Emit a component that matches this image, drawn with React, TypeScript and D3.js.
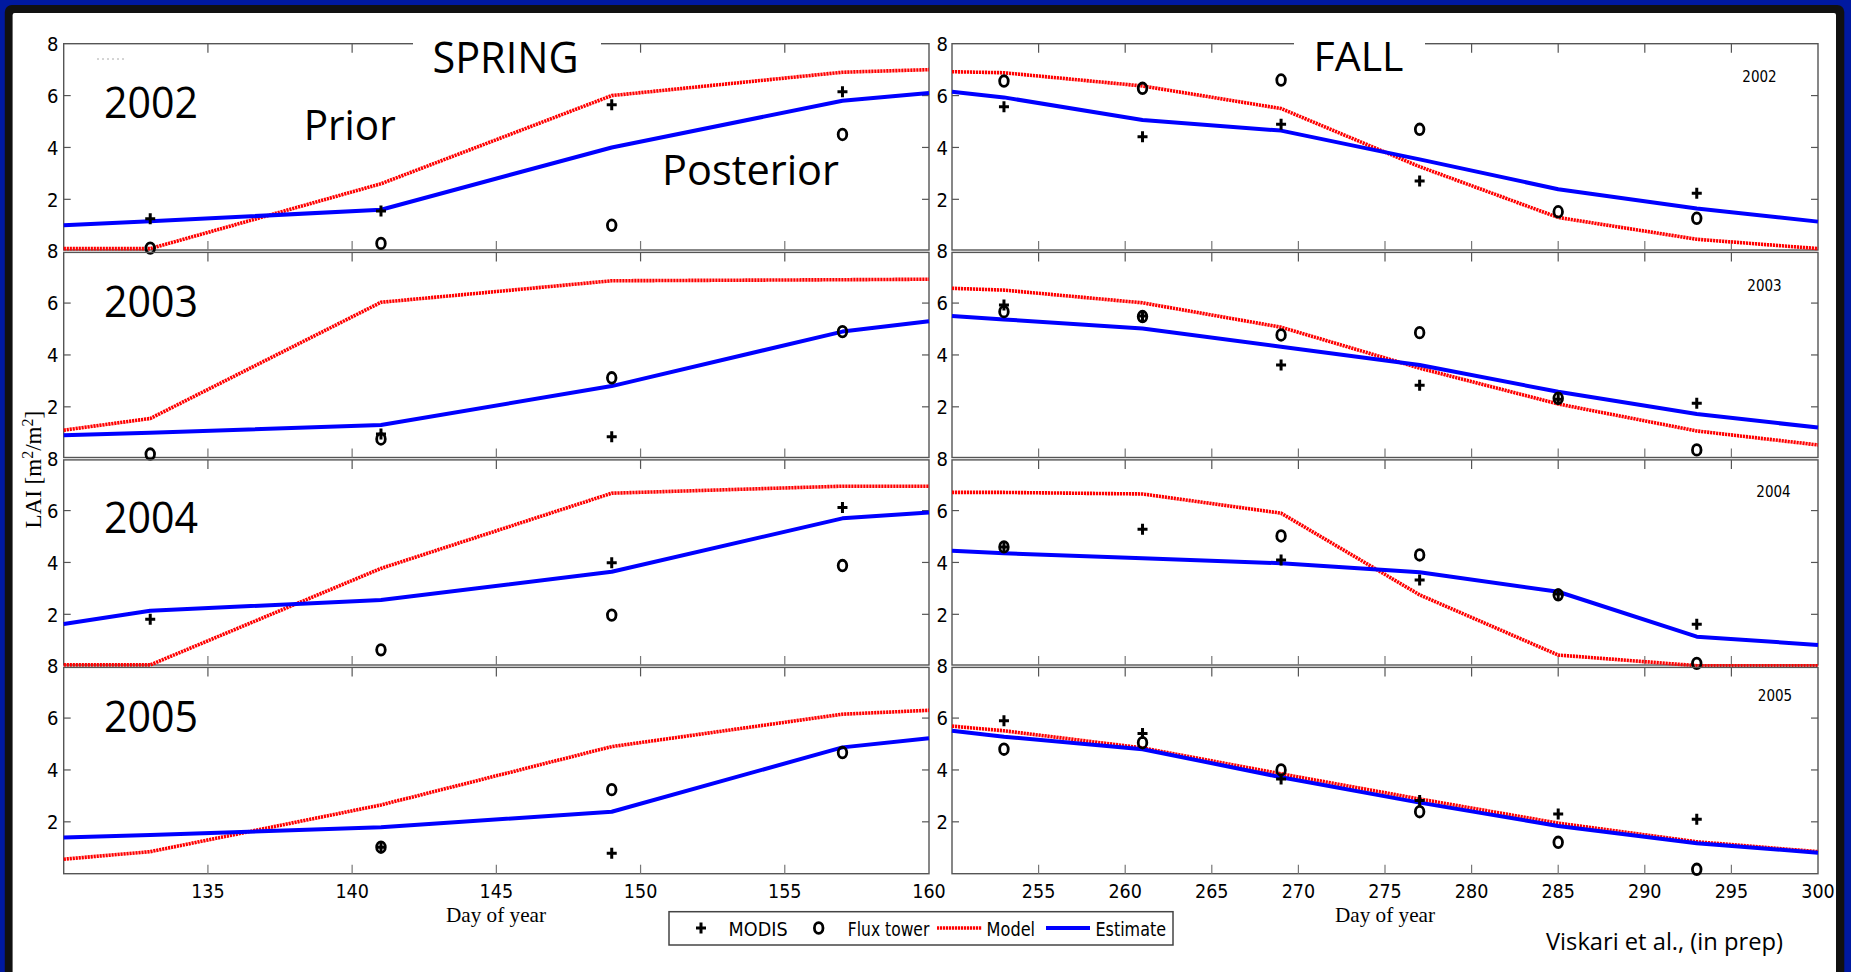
import React from 'react';
import * as d3 from 'd3';

// ---------- data ----------
const years = ['2002', '2003', '2004', '2005'];
const springTicks = [135, 140, 145, 150, 155, 160];
const fallTicks = [255, 260, 265, 270, 275, 280, 285, 290, 295, 300];
const yTicks = [2, 4, 6, 8];

const springObsDays = [133, 141, 149, 157];
const springLineDays = [130, 133, 141, 149, 157, 160];
const fallObsDays = [253, 261, 269, 277, 285, 293];
const fallLineDays = [250, 253, 261, 269, 277, 285, 293, 300];

const springModel = [
  [0.1, 0.1, 2.6, 6.0, 6.9, 7.0],
  [1.1, 1.55, 6.03, 6.86, 6.9, 6.92],
  [0.05, 0.05, 3.77, 6.67, 6.94, 6.94],
  [0.56, 0.85, 2.65, 4.9, 6.15, 6.3],
];
const springEstimate = [
  [1.0, 1.15, 1.6, 4.0, 5.8, 6.1],
  [0.9, 1.0, 1.3, 2.8, 4.9, 5.3],
  [1.63, 2.14, 2.55, 3.64, 5.7, 5.93],
  [1.4, 1.49, 1.79, 2.39, 4.87, 5.22],
];
const springModis = [
  [1.25, 1.55, 5.65, 6.15],
  [null, 0.95, 0.85, null],
  [1.81, null, 3.99, 6.12],
  [null, 1.02, 0.79, null],
];
const springFlux = [
  [0.12, 0.3, 1.0, 4.5],
  [0.18, 0.76, 3.12, 4.9],
  [null, 0.63, 1.97, 3.88],
  [null, 1.02, 3.24, 4.67],
];

const fallModel = [
  [6.92, 6.88, 6.37, 5.5, 3.26, 1.3, 0.46, 0.1],
  [6.57, 6.5, 6.01, 5.07, 3.49, 2.11, 1.07, 0.53],
  [6.7, 6.7, 6.64, 5.9, 2.75, 0.43, 0.02, 0.02],
  [5.69, 5.51, 4.85, 3.85, 2.88, 1.95, 1.23, 0.85],
];
const fallEstimate = [
  [6.15, 5.93, 5.06, 4.65, 3.54, 2.39, 1.65, 1.14],
  [5.5, 5.37, 5.02, 4.32, 3.61, 2.58, 1.72, 1.2],
  [4.45, 4.35, 4.16, 3.97, 3.62, 2.87, 1.14, 0.82],
  [5.51, 5.28, 4.8, 3.72, 2.74, 1.84, 1.17, 0.81],
];
const fallModis = [
  [5.57, 4.41, 4.89, 2.71, null, 2.23],
  [5.93, 5.5, 3.61, 2.83, 2.29, 2.14],
  [4.6, 5.28, 4.09, 3.32, 2.78, 1.62],
  [5.9, 5.41, 3.65, 2.82, 2.3, 2.1],
];
const fallFlux = [
  [6.56, 6.28, 6.6, 4.7, 1.52, 1.27],
  [5.67, 5.48, 4.77, 4.86, 2.33, 0.34],
  [4.6, null, 5.02, 4.29, 2.75, 0.11],
  [4.8, 5.05, 4.0, 2.39, 1.21, 0.17],
];

const legendLabels = ['MODIS', 'Flux tower', 'Model', 'Estimate'];

// ---------- layout ----------
const W = 1851;
const H = 972;
const TOP = 43.7;
const PH = 207.5;
const SP = { x0: 63.7, x1: 929, dom: [130, 160] };
const FA = { x0: 952, x1: 1818, dom: [250, 300] };
const yearDy = [74.6, 66, 74, 65.5];
const smallYearX = [1759.5, 1764.5, 1773.5, 1775];
const smallYearDy = [38, 39.5, 38, 34.5];
const legendTextX = [728.6, 847.8, 986.6, 1095.5];
const legendTextW = [59, 81.5, 48.5, 70.5];

const TICK_FONT = "'Liberation Sans Narrow', 'DejaVu Sans Condensed', 'Liberation Sans', Arial, sans-serif";
const TITLE_FONT = "'Open Sans', 'Noto Sans', sans-serif";
const SERIF = "'Liberation Serif', 'DejaVu Serif', serif";
const FRAME = '#555';
const RED = '#ff0000';
const BLUE = '#0000ff';

const Plus = ({ x, y }: { x: number; y: number }) => (
  <path d={`M${x - 5},${y}H${x + 5}M${x},${y - 5.5}V${y + 5.5}`} stroke="#000" strokeWidth={3} fill="none" />
);
const Circ = ({ x, y }: { x: number; y: number }) => (
  <ellipse cx={x} cy={y} rx={4.3} ry={5.3} stroke="#000" strokeWidth={2.8} fill="none" />
);

function Panel(props: {
  i: number;
  side: typeof SP;
  ticks: number[];
  obsDays: number[];
  lineDays: number[];
  model: number[];
  est: number[];
  modis: (number | null)[];
  flux: (number | null)[];
  labelX: number;
}) {
  const { i, side, ticks, obsDays, lineDays, model, est, modis, flux, labelX } = props;
  const x = d3.scaleLinear().domain(side.dom).range([side.x0, side.x1]);
  const top = TOP + i * PH;
  const bot = TOP + (i + 1) * PH;
  const y = d3.scaleLinear().domain([0, 8]).range([bot, top]);
  const ft = top + (i > 0 ? 1.2 : 0);
  const fb = bot - (i < 3 ? 1.2 : 0);
  const line = d3
    .line<number>()
    .x((_, k) => x(lineDays[k]))
    .y((d) => y(d));
  const inner = ticks.filter((t) => t > side.dom[0] && t < side.dom[1]);
  return (
    <g>
      <rect x={side.x0} y={ft} width={side.x1 - side.x0} height={fb - ft} fill="none" stroke={FRAME} strokeWidth={1.4} />
      {inner.map((t) => (
        <g key={'xt' + t}>
          <line x1={x(t)} x2={x(t)} y1={ft} y2={ft + 9} stroke={FRAME} strokeWidth={1.2} />
          <line x1={x(t)} x2={x(t)} y1={fb} y2={fb - 9} stroke="#777" strokeWidth={1.2} />
        </g>
      ))}
      {yTicks
        .filter((t) => t < 8)
        .map((t) => (
          <g key={'yt' + t}>
            <line x1={side.x0} x2={side.x0 + 7} y1={y(t)} y2={y(t)} stroke={FRAME} strokeWidth={1.2} />
            <line x1={side.x1} x2={side.x1 - 7} y1={y(t)} y2={y(t)} stroke={FRAME} strokeWidth={1.2} />
          </g>
        ))}
      {yTicks.map((t) => (
        <text key={'yl' + t} x={labelX} y={y(t)} dy="0.36em" textAnchor="end" fontFamily={TICK_FONT} fontSize={20} fill="#000">
          {t}
        </text>
      ))}
      <path d={line(model) || ''} fill="none" stroke={RED} strokeWidth={3.6} strokeDasharray="2.2 0.8" />
      <path d={line(est) || ''} fill="none" stroke={BLUE} strokeWidth={4} strokeLinejoin="round" />
      {flux.map((v, k) => (v == null ? null : <Circ key={'f' + k} x={x(obsDays[k])} y={y(v)} />))}
      {modis.map((v, k) => (v == null ? null : <Plus key={'m' + k} x={x(obsDays[k])} y={y(v)} />))}
    </g>
  );
}

export default function App() {
  const xs = d3.scaleLinear().domain(SP.dom).range([SP.x0, SP.x1]);
  const xf = d3.scaleLinear().domain(FA.dom).range([FA.x0, FA.x1]);
  const bottom = TOP + 4 * PH;
  return (
    <svg width={W} height={H} style={{ position: 'absolute', left: 0, top: 0 }} xmlns="http://www.w3.org/2000/svg">
      <rect x={0} y={0} width={W} height={H} fill="#0019a0" />
      <rect x={4.8} y={5} width={1839.5} height={1000} rx={7} fill="#111" />
      <rect x={12.6} y={13} width={1823.4} height={990} rx={2} fill="#fff" />

      {years.map((yr, i) => (
        <Panel
          key={'s' + yr}
          i={i}
          side={SP}
          ticks={springTicks}
          obsDays={springObsDays}
          lineDays={springLineDays}
          model={springModel[i]}
          est={springEstimate[i]}
          modis={springModis[i]}
          flux={springFlux[i]}
          labelX={58.5}
        />
      ))}
      {years.map((yr, i) => (
        <Panel
          key={'f' + yr}
          i={i}
          side={FA}
          ticks={fallTicks}
          obsDays={fallObsDays}
          lineDays={fallLineDays}
          model={fallModel[i]}
          est={fallEstimate[i]}
          modis={fallModis[i]}
          flux={fallFlux[i]}
          labelX={948}
        />
      ))}

      {/* title knock-outs */}
      <rect x={413} y={36} width={188} height={20} fill="#fff" />
      <rect x={1294} y={36} width={131} height={20} fill="#fff" />
      <text x={505.5} y={72.7} textAnchor="middle" fontFamily={TITLE_FONT} fontSize={43} fill="#000" textLength={146} lengthAdjust="spacingAndGlyphs">
        SPRING
      </text>
      <text x={1358.5} y={70.7} textAnchor="middle" fontFamily={TITLE_FONT} fontSize={41} fill="#000">
        FALL
      </text>
      <line x1={97} x2={126} y1={59} y2={59} stroke="#aaa" strokeWidth={1} strokeDasharray="2 3" />
      <text x={303.7} y={140} fontFamily={TITLE_FONT} fontSize={42} fill="#000" textLength={92} lengthAdjust="spacingAndGlyphs">
        Prior
      </text>
      <text x={662} y={185} fontFamily={TITLE_FONT} fontSize={42} fill="#000" textLength={177} lengthAdjust="spacingAndGlyphs">
        Posterior
      </text>

      {years.map((yr, i) => (
        <text
          key={'yl' + yr}
          x={104}
          y={TOP + i * PH + yearDy[i]}
          fontFamily={TITLE_FONT}
          fontSize={43}
          fill="#000"
          textLength={94}
          lengthAdjust="spacingAndGlyphs"
        >
          {yr}
        </text>
      ))}
      {years.map((yr, i) => (
        <text
          key={'sy' + yr}
          x={smallYearX[i]}
          y={TOP + i * PH + smallYearDy[i]}
          textAnchor="middle"
          fontFamily={TICK_FONT}
          fontSize={15}
          fill="#000"
        >
          {yr}
        </text>
      ))}

      {/* x tick labels */}
      {springTicks.map((t) => (
        <text key={'sx' + t} x={xs(t)} y={898} textAnchor="middle" fontFamily={TICK_FONT} fontSize={19.5} fill="#000">
          {t}
        </text>
      ))}
      {fallTicks.map((t) => (
        <text key={'fx' + t} x={xf(t)} y={898} textAnchor="middle" fontFamily={TICK_FONT} fontSize={19.5} fill="#000">
          {t}
        </text>
      ))}
      <text x={496} y={922} textAnchor="middle" fontFamily={SERIF} fontSize={21} fill="#000" textLength={100} lengthAdjust="spacingAndGlyphs">
        Day of year
      </text>
      <text x={1385} y={922} textAnchor="middle" fontFamily={SERIF} fontSize={21} fill="#000" textLength={100} lengthAdjust="spacingAndGlyphs">
        Day of year
      </text>
      <text
        transform={`translate(41,${(TOP + bottom) / 2 + 11}) rotate(-90)`}
        textAnchor="middle"
        fontFamily={SERIF}
        fontSize={23}
        fill="#000"
      >
        LAI [m<tspan dy={-8.5} fontSize={16}>2</tspan>
        <tspan dy={8.5}>/m</tspan>
        <tspan dy={-8.5} fontSize={16}>2</tspan>
        <tspan dy={8.5}>]</tspan>
      </text>

      {/* legend */}
      <rect x={669} y={911.7} width={504} height={33.3} fill="#fff" stroke="#444" strokeWidth={1.5} />
      <Plus x={701} y={928} />
      <Circ x={818.7} y={928} />
      <line x1={937} x2={982} y1={928} y2={928} stroke={RED} strokeWidth={3.6} strokeDasharray="2.2 0.8" />
      <line x1={1046} x2={1090} y1={928} y2={928} stroke={BLUE} strokeWidth={4} />
      {legendLabels.map((l, k) => (
        <text
          key={'lg' + l}
          x={legendTextX[k]}
          y={936}
          fontFamily={TICK_FONT}
          fontSize={20}
          fill="#000"
          textLength={legendTextW[k]}
          lengthAdjust="spacingAndGlyphs"
        >
          {l}
        </text>
      ))}

      <text x={1546} y={950} fontFamily={TITLE_FONT} fontSize={23} fill="#000" textLength={237} lengthAdjust="spacingAndGlyphs">
        Viskari et al., (in prep)
      </text>
    </svg>
  );
}
